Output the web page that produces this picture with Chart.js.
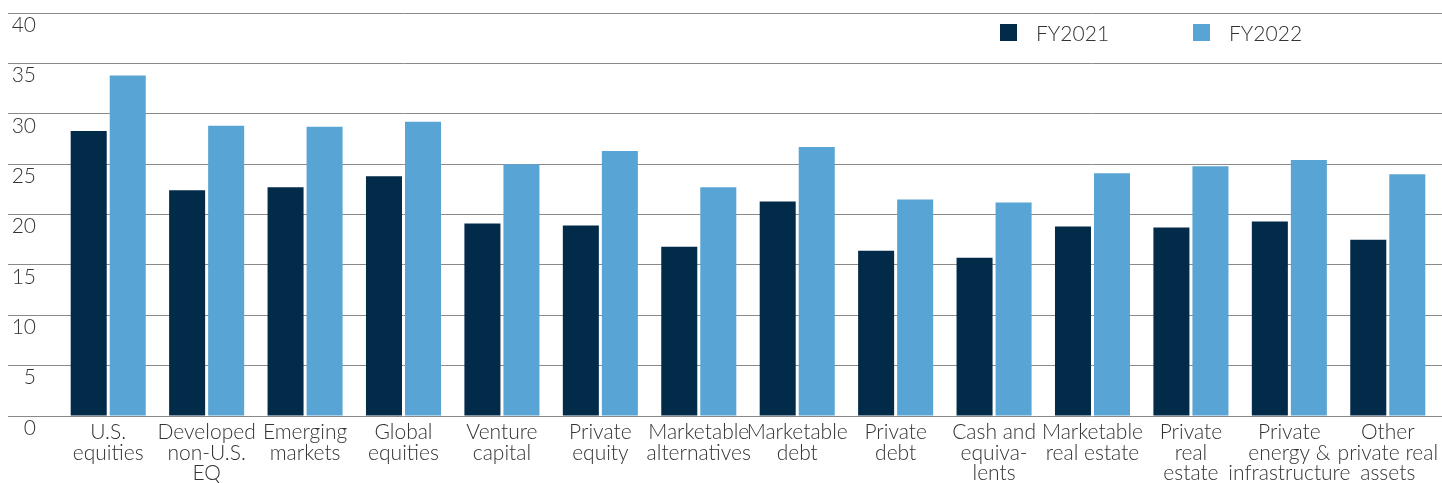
<!DOCTYPE html>
<html>
<head>
<meta charset="utf-8">
<script src="https://cdn.jsdelivr.net/npm/chart.js@4.4.1/dist/chart.umd.min.js"></script>
<style>
    body { margin: 0; background: #fff; }
    .wrap { position: relative; width: 1442px; height: 483px; }
    .legend { position: absolute; top: 20px; left: 1000px; display: flex; font-family: Lato, "Open Sans", sans-serif; font-weight: 300; font-size: 21px; color: #333; }
    .legend-item { display: flex; align-items: center; width: 193px; }
    .legend-item span.box { width: 17px; height: 17px; margin-right: 19px; }
</style>
</head>
<body>
<div class="wrap">
    <canvas id="chart"></canvas>
    <div class="legend" id="legend"></div>
</div>
<script>
// Data
const categories = [
    ['U.S.', 'equities'],
    ['Developed', 'non-U.S.', 'EQ'],
    ['Emerging', 'markets'],
    ['Global', 'equities'],
    ['Venture', 'capital'],
    ['Private', 'equity'],
    ['Marketable', 'alternatives'],
    ['Marketable', 'debt'],
    ['Private', 'debt'],
    ['Cash and', 'equiva-', 'lents'],
    ['Marketable', 'real estate'],
    ['Private', 'real', 'estate'],
    ['Private', 'energy &', 'infrastructure'],
    ['Other', 'private real', 'assets']
];
const seriesNames = ['FY2021', 'FY2022'];
const fy2021 = [28.3, 22.4, 22.7, 23.8, 19.1, 18.9, 16.8, 21.3, 16.4, 15.7, 18.8, 18.7, 19.3, 17.5];
const fy2022 = [33.8, 28.8, 28.7, 29.2, 25.0, 26.3, 22.7, 26.7, 21.5, 21.2, 24.1, 24.8, 25.4, 24.0];
const yMin = 0;
const yMax = 40;
const yStep = 5;

const colors = ['#022b49', '#58a4d4'];
const gridColor = '#8a8a8a';
const textColor = '#333333';
const fontFamily = 'Lato, "Open Sans", sans-serif';

// Legend (html)
const legendEl = document.getElementById('legend');
seriesNames.forEach((name, i) => {
    const item = document.createElement('div');
    item.className = 'legend-item';
    item.innerHTML = `<span class="box" style="background:${colors[i]}"></span><span>${name}</span>`;
    legendEl.appendChild(item);
});

const ctx = document.getElementById('chart').getContext('2d');
new Chart(ctx, {
    type: 'bar',
    data: {
        labels: categories,
        datasets: [
            { label: seriesNames[0], data: fy2021, backgroundColor: colors[0] },
            { label: seriesNames[1], data: fy2022, backgroundColor: colors[1] }
        ]
    },
    options: {
        responsive: true,
        maintainAspectRatio: false,
        animation: false,
        layout: { padding: { top: 13, left: 8, right: 0, bottom: 0 } },
        datasets: {
            bar: { categoryPercentage: 0.793, barPercentage: 0.923 }
        },
        scales: {
            x: {
                grid: { display: false, drawTicks: false },
                border: { display: false },
                ticks: {
                    color: textColor,
                    font: { family: fontFamily, size: 21, weight: '300', lineHeight: 0.98 },
                    padding: 6,
                    autoSkip: false,
                    maxRotation: 0,
                    minRotation: 0
                },
                afterFit: (scale) => {
                    scale.height = 67;
                    // labels may spill past the edges, like in the original
                    scale.paddingLeft = 0;
                    scale.paddingRight = 0;
                }
            },
            y: {
                min: yMin,
                max: yMax,
                border: { display: false },
                grid: { color: gridColor, lineWidth: 1, tickLength: 51, drawTicks: true },
                ticks: {
                    stepSize: yStep,
                    color: textColor,
                    font: { family: fontFamily, size: 21, weight: '300' },
                    padding: -28,
                    labelOffset: 12
                },
                afterFit: (scale) => { scale.width = 51; }
            },
            y2: {
                position: 'right',
                min: yMin,
                max: yMax,
                border: { display: false },
                grid: { color: gridColor, lineWidth: 1, tickLength: 5, drawOnChartArea: false },
                ticks: { display: false, stepSize: yStep },
                afterFit: (scale) => { scale.width = 5; }
            }
        },
        plugins: {
            legend: { display: false },
            tooltip: { enabled: false }
        }
    }
});
</script>
</body>
</html>
